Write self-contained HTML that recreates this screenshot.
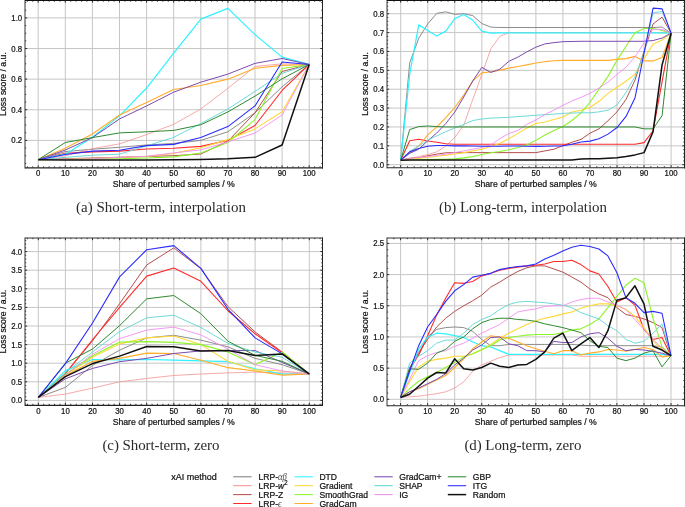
<!DOCTYPE html>
<html><head><meta charset="utf-8"><style>
html,body{margin:0;padding:0;background:#fff;}
body{width:685px;height:507px;overflow:hidden;}
svg{display:block;will-change:transform;font-family:"Liberation Sans",sans-serif;}
.s{stroke:#111;stroke-width:0.22px;}
</style></head><body>
<svg width="685" height="507" viewBox="0 0 685 507">
<rect width="685" height="507" fill="#fff"/>
<path d="M38.20 0.50V167.50M65.30 0.50V167.50M92.40 0.50V167.50M119.50 0.50V167.50M146.60 0.50V167.50M173.70 0.50V167.50M200.80 0.50V167.50M227.90 0.50V167.50M255.00 0.50V167.50M282.10 0.50V167.50M309.20 0.50V167.50M25.00 140.38H322.50M25.00 109.76H322.50M25.00 79.14H322.50M25.00 48.52H322.50M25.00 17.90H322.50" stroke="#c6c6c6" stroke-width="1.0" fill="none"/>
<g fill="none" stroke-linejoin="round" stroke-linecap="butt">
<polyline points="38.20,159.67 65.30,151.56 92.40,149.26 119.50,147.27 146.60,144.97 173.70,143.44 200.80,140.38 227.90,131.81 255.00,112.82 282.10,86.80 309.20,64.44" stroke="#7f7f7f" stroke-width="0.9"/>
<polyline points="38.20,159.67 65.30,155.84 92.40,148.65 119.50,143.90 146.60,134.56 173.70,124.30 200.80,108.99 227.90,88.33 255.00,66.43 282.10,63.83 309.20,64.44" stroke="#f39494" stroke-width="0.8"/>
<polyline points="38.20,159.67 65.30,158.75 92.40,157.99 119.50,157.22 146.60,156.46 173.70,155.69 200.80,154.01 227.90,141.15 255.00,112.82 282.10,71.48 309.20,64.44" stroke="#b44f4f" stroke-width="1.0"/>
<polyline points="38.20,159.67 65.30,153.24 92.40,151.86 119.50,151.10 146.60,148.95 173.70,148.19 200.80,146.35 227.90,140.38 255.00,125.53 282.10,90.47 309.20,64.44" stroke="#ff2a2a" stroke-width="1.1"/>
<polyline points="38.20,159.67 65.30,154.16 92.40,137.32 119.50,115.88 146.60,88.02 173.70,53.11 200.80,19.12 227.90,8.41 255.00,34.59 282.10,57.09 309.20,64.44" stroke="#2ef2ff" stroke-width="1.2"/>
<polyline points="38.20,159.67 65.30,159.21 92.40,158.45 119.50,157.53 146.60,156.46 173.70,153.39 200.80,147.73 227.90,139.61 255.00,128.90 282.10,111.75 309.20,64.44" stroke="#ffd83a" stroke-width="1.1"/>
<polyline points="38.20,159.67 65.30,159.52 92.40,159.06 119.50,158.75 146.60,157.99 173.70,156.91 200.80,152.93 227.90,142.52 255.00,119.56 282.10,68.42 309.20,64.44" stroke="#8cf52a" stroke-width="1.1"/>
<polyline points="38.20,159.67 65.30,148.19 92.40,133.95 119.50,114.97 146.60,102.41 173.70,89.55 200.80,85.57 227.90,79.14 255.00,68.27 282.10,65.36 309.20,64.44" stroke="#ffad2a" stroke-width="1.1"/>
<polyline points="38.20,159.67 65.30,150.03 92.40,137.62 119.50,118.95 146.60,105.93 173.70,92.15 200.80,82.20 227.90,74.09 255.00,63.37 282.10,58.47 309.20,64.44" stroke="#7d4bb0" stroke-width="1.0"/>
<polyline points="38.20,159.67 65.30,157.37 92.40,155.23 119.50,154.16 146.60,145.89 173.70,137.32 200.80,123.54 227.90,108.99 255.00,91.39 282.10,73.32 309.20,64.44" stroke="#5fd6d2" stroke-width="0.9"/>
<polyline points="38.20,159.67 65.30,159.36 92.40,158.75 119.50,157.37 146.60,156.30 173.70,152.93 200.80,149.87 227.90,141.91 255.00,133.03 282.10,114.97 309.20,64.44" stroke="#f28ef2" stroke-width="0.9"/>
<polyline points="38.20,159.67 65.30,142.52 92.40,137.62 119.50,132.88 146.60,131.81 173.70,130.43 200.80,124.76 227.90,111.90 255.00,96.13 282.10,78.83 309.20,64.44" stroke="#2f8a2f" stroke-width="1.0"/>
<polyline points="38.20,159.67 65.30,154.47 92.40,151.10 119.50,150.18 146.60,145.59 173.70,144.36 200.80,137.47 227.90,126.60 255.00,105.93 282.10,61.99 309.20,64.44" stroke="#2c2cff" stroke-width="1.1"/>
<polyline points="38.20,159.67 65.30,159.98 92.40,159.98 119.50,159.98 146.60,159.98 173.70,159.82 200.80,159.52 227.90,158.75 255.00,157.37 282.10,144.97 309.20,64.44" stroke="#111111" stroke-width="1.5"/>
</g>
<path d="M27.36 167.50v-1.2M27.36 0.50v1.2M32.78 167.50v-1.2M32.78 0.50v1.2M38.20 167.50v-2.2M38.20 0.50v2.2M43.62 167.50v-1.2M43.62 0.50v1.2M49.04 167.50v-1.2M49.04 0.50v1.2M54.46 167.50v-1.2M54.46 0.50v1.2M59.88 167.50v-1.2M59.88 0.50v1.2M65.30 167.50v-2.2M65.30 0.50v2.2M70.72 167.50v-1.2M70.72 0.50v1.2M76.14 167.50v-1.2M76.14 0.50v1.2M81.56 167.50v-1.2M81.56 0.50v1.2M86.98 167.50v-1.2M86.98 0.50v1.2M92.40 167.50v-2.2M92.40 0.50v2.2M97.82 167.50v-1.2M97.82 0.50v1.2M103.24 167.50v-1.2M103.24 0.50v1.2M108.66 167.50v-1.2M108.66 0.50v1.2M114.08 167.50v-1.2M114.08 0.50v1.2M119.50 167.50v-2.2M119.50 0.50v2.2M124.92 167.50v-1.2M124.92 0.50v1.2M130.34 167.50v-1.2M130.34 0.50v1.2M135.76 167.50v-1.2M135.76 0.50v1.2M141.18 167.50v-1.2M141.18 0.50v1.2M146.60 167.50v-2.2M146.60 0.50v2.2M152.02 167.50v-1.2M152.02 0.50v1.2M157.44 167.50v-1.2M157.44 0.50v1.2M162.86 167.50v-1.2M162.86 0.50v1.2M168.28 167.50v-1.2M168.28 0.50v1.2M173.70 167.50v-2.2M173.70 0.50v2.2M179.12 167.50v-1.2M179.12 0.50v1.2M184.54 167.50v-1.2M184.54 0.50v1.2M189.96 167.50v-1.2M189.96 0.50v1.2M195.38 167.50v-1.2M195.38 0.50v1.2M200.80 167.50v-2.2M200.80 0.50v2.2M206.22 167.50v-1.2M206.22 0.50v1.2M211.64 167.50v-1.2M211.64 0.50v1.2M217.06 167.50v-1.2M217.06 0.50v1.2M222.48 167.50v-1.2M222.48 0.50v1.2M227.90 167.50v-2.2M227.90 0.50v2.2M233.32 167.50v-1.2M233.32 0.50v1.2M238.74 167.50v-1.2M238.74 0.50v1.2M244.16 167.50v-1.2M244.16 0.50v1.2M249.58 167.50v-1.2M249.58 0.50v1.2M255.00 167.50v-2.2M255.00 0.50v2.2M260.42 167.50v-1.2M260.42 0.50v1.2M265.84 167.50v-1.2M265.84 0.50v1.2M271.26 167.50v-1.2M271.26 0.50v1.2M276.68 167.50v-1.2M276.68 0.50v1.2M282.10 167.50v-2.2M282.10 0.50v2.2M287.52 167.50v-1.2M287.52 0.50v1.2M292.94 167.50v-1.2M292.94 0.50v1.2M298.36 167.50v-1.2M298.36 0.50v1.2M303.78 167.50v-1.2M303.78 0.50v1.2M309.20 167.50v-2.2M309.20 0.50v2.2M314.62 167.50v-1.2M314.62 0.50v1.2M320.04 167.50v-1.2M320.04 0.50v1.2M25.00 163.34h1.2M322.50 163.34h-1.2M25.00 155.69h1.2M322.50 155.69h-1.2M25.00 148.03h1.2M322.50 148.03h-1.2M25.00 140.38h2.2M322.50 140.38h-2.2M25.00 132.72h1.2M322.50 132.72h-1.2M25.00 125.07h1.2M322.50 125.07h-1.2M25.00 117.41h1.2M322.50 117.41h-1.2M25.00 109.76h2.2M322.50 109.76h-2.2M25.00 102.10h1.2M322.50 102.10h-1.2M25.00 94.45h1.2M322.50 94.45h-1.2M25.00 86.79h1.2M322.50 86.79h-1.2M25.00 79.14h2.2M322.50 79.14h-2.2M25.00 71.48h1.2M322.50 71.48h-1.2M25.00 63.83h1.2M322.50 63.83h-1.2M25.00 56.17h1.2M322.50 56.17h-1.2M25.00 48.52h2.2M322.50 48.52h-2.2M25.00 40.86h1.2M322.50 40.86h-1.2M25.00 33.21h1.2M322.50 33.21h-1.2M25.00 25.55h1.2M322.50 25.55h-1.2M25.00 17.90h2.2M322.50 17.90h-2.2M25.00 10.24h1.2M322.50 10.24h-1.2M25.00 2.59h1.2M322.50 2.59h-1.2" stroke="#000" stroke-width="0.8" fill="none"/>
<path d="M25.00 0.00V168.50" stroke="#333" stroke-width="1.0" fill="none"/>
<path d="M322.50 0.00V168.50" stroke="#222" stroke-width="1.0" fill="none"/>
<path d="M25.00 0.50H323.00" stroke="#111" stroke-width="1.0" fill="none"/>
<path d="M25.00 167.90H323.00" stroke="#222" stroke-width="1.1" fill="none"/>
<g font-size="7.8" fill="#111" stroke="#111" stroke-width="0.2"><text transform="translate(38.20,176.20) scale(1,1.2)" text-anchor="middle">0</text><text transform="translate(65.30,176.20) scale(1,1.2)" text-anchor="middle">10</text><text transform="translate(92.40,176.20) scale(1,1.2)" text-anchor="middle">20</text><text transform="translate(119.50,176.20) scale(1,1.2)" text-anchor="middle">30</text><text transform="translate(146.60,176.20) scale(1,1.2)" text-anchor="middle">40</text><text transform="translate(173.70,176.20) scale(1,1.2)" text-anchor="middle">50</text><text transform="translate(200.80,176.20) scale(1,1.2)" text-anchor="middle">60</text><text transform="translate(227.90,176.20) scale(1,1.2)" text-anchor="middle">70</text><text transform="translate(255.00,176.20) scale(1,1.2)" text-anchor="middle">80</text><text transform="translate(282.10,176.20) scale(1,1.2)" text-anchor="middle">90</text><text transform="translate(309.20,176.20) scale(1,1.2)" text-anchor="middle">100</text><text transform="translate(22.20,143.38) scale(1,1.2)" text-anchor="end">0.2</text><text transform="translate(22.20,112.76) scale(1,1.2)" text-anchor="end">0.4</text><text transform="translate(22.20,82.14) scale(1,1.2)" text-anchor="end">0.6</text><text transform="translate(22.20,51.52) scale(1,1.2)" text-anchor="end">0.8</text><text transform="translate(22.20,20.90) scale(1,1.2)" text-anchor="end">1.0</text></g>
<text x="173.75" y="186.80" text-anchor="middle" font-size="8.7" fill="#111" class="s">Share of perturbed samples / %</text>
<text transform="translate(6.20,84.00) rotate(-90)" text-anchor="middle" font-size="8.7" fill="#111" class="s">Loss score / a.u.</text>
<text transform="translate(160.95,212.00) scale(1.1,1)" text-anchor="middle" font-family="Liberation Serif, serif" font-size="13.6" fill="#2a2a2a" textLength="154.55" lengthAdjust="spacing">(a) Short-term, interpolation</text>
<path d="M400.70 0.50V167.40M427.74 0.50V167.40M454.78 0.50V167.40M481.82 0.50V167.40M508.86 0.50V167.40M535.90 0.50V167.40M562.94 0.50V167.40M589.98 0.50V167.40M617.02 0.50V167.40M644.06 0.50V167.40M671.10 0.50V167.40M387.00 164.70H684.50M387.00 145.83H684.50M387.00 126.96H684.50M387.00 108.09H684.50M387.00 89.22H684.50M387.00 70.35H684.50M387.00 51.48H684.50M387.00 32.61H684.50M387.00 13.74H684.50" stroke="#c6c6c6" stroke-width="1.0" fill="none"/>
<g fill="none" stroke-linejoin="round" stroke-linecap="butt">
<polyline points="400.70,160.17 409.71,62.80 418.73,38.27 427.74,23.93 436.75,13.36 445.77,11.85 454.78,14.31 463.79,13.74 472.81,15.63 481.82,23.55 490.83,27.14 499.85,27.52 508.86,27.52 517.87,27.52 526.89,27.52 535.90,27.52 544.91,27.52 553.93,27.52 562.94,27.52 571.95,27.52 580.97,27.52 589.98,27.52 598.99,27.52 608.01,27.52 617.02,27.52 626.03,27.52 635.05,27.52 644.06,27.52 653.07,27.52 662.09,27.14 671.10,33.18" stroke="#7f7f7f" stroke-width="0.9"/>
<polyline points="400.70,160.17 409.71,158.10 418.73,156.59 427.74,154.51 436.75,151.87 445.77,146.02 454.78,137.53 463.79,125.07 472.81,99.41 481.82,74.69 490.83,48.84 499.85,36.38 508.86,32.61 517.87,32.61 526.89,32.61 535.90,32.61 544.91,32.61 553.93,32.61 562.94,32.61 571.95,32.61 580.97,32.61 589.98,32.61 598.99,32.61 608.01,32.61 617.02,32.61 626.03,32.61 635.05,32.61 644.06,32.61 653.07,32.61 662.09,32.61 671.10,33.18" stroke="#f39494" stroke-width="0.8"/>
<polyline points="400.70,160.17 409.71,158.47 418.73,157.91 427.74,155.83 436.75,154.13 445.77,152.81 454.78,152.62 463.79,152.62 472.81,152.62 481.82,152.62 490.83,152.62 499.85,152.62 508.86,152.62 517.87,152.62 526.89,152.62 535.90,152.62 544.91,150.92 553.93,149.23 562.94,145.64 571.95,142.24 580.97,139.41 589.98,133.19 598.99,128.85 608.01,120.73 617.02,111.86 626.03,99.41 635.05,79.97 644.06,51.48 653.07,23.93 662.09,17.14 671.10,33.18" stroke="#b44f4f" stroke-width="1.0"/>
<polyline points="400.70,160.17 409.71,140.74 418.73,139.23 427.74,140.92 436.75,142.24 445.77,143.75 454.78,144.32 463.79,144.32 472.81,144.32 481.82,144.32 490.83,144.32 499.85,144.32 508.86,144.32 517.87,144.32 526.89,144.32 535.90,144.32 544.91,144.32 553.93,144.32 562.94,144.32 571.95,144.32 580.97,144.32 589.98,144.32 598.99,144.32 608.01,144.32 617.02,144.32 626.03,144.32 635.05,144.32 644.06,142.62 653.07,130.73 662.09,81.67 671.10,33.18" stroke="#ff2a2a" stroke-width="1.1"/>
<polyline points="400.70,160.17 409.71,74.12 418.73,24.87 427.74,30.53 436.75,36.01 445.77,31.10 454.78,18.65 463.79,14.49 472.81,20.34 481.82,31.10 490.83,33.18 499.85,32.80 508.86,32.80 517.87,32.80 526.89,32.80 535.90,32.80 544.91,32.80 553.93,32.80 562.94,32.80 571.95,32.80 580.97,32.80 589.98,32.80 598.99,32.80 608.01,32.80 617.02,32.80 626.03,32.80 635.05,32.80 644.06,32.80 653.07,32.80 662.09,32.80 671.10,33.18" stroke="#2ef2ff" stroke-width="1.2"/>
<polyline points="400.70,160.17 409.71,159.04 418.73,158.10 427.74,157.15 436.75,156.21 445.77,155.08 454.78,153.94 463.79,152.62 472.81,150.92 481.82,149.23 490.83,146.58 499.85,143.19 508.86,138.66 517.87,133.38 526.89,128.09 535.90,123.56 544.91,122.05 553.93,119.41 562.94,116.96 571.95,112.05 580.97,110.17 589.98,107.52 598.99,101.30 608.01,93.37 617.02,87.33 626.03,81.29 635.05,74.12 644.06,58.65 653.07,44.31 662.09,39.97 671.10,33.18" stroke="#ffd83a" stroke-width="1.1"/>
<polyline points="400.70,160.17 409.71,159.79 418.73,159.79 427.74,159.61 436.75,159.42 445.77,159.23 454.78,158.85 463.79,157.91 472.81,156.59 481.82,154.51 490.83,152.81 499.85,151.49 508.86,149.79 517.87,147.53 526.89,144.89 535.90,140.36 544.91,135.07 553.93,130.55 562.94,126.58 571.95,120.54 580.97,112.81 589.98,102.24 598.99,89.22 608.01,76.39 617.02,60.35 626.03,46.20 635.05,32.80 644.06,28.46 653.07,28.46 662.09,30.53 671.10,33.18" stroke="#8cf52a" stroke-width="1.1"/>
<polyline points="400.70,160.17 409.71,152.62 418.73,146.02 427.74,134.89 436.75,126.96 445.77,117.71 454.78,107.52 463.79,95.07 472.81,80.92 481.82,72.80 490.83,71.86 499.85,70.16 508.86,68.09 517.87,66.58 526.89,64.88 535.90,62.99 544.91,61.67 553.93,60.73 562.94,60.35 571.95,60.35 580.97,60.35 589.98,60.35 598.99,60.35 608.01,60.35 617.02,59.41 626.03,58.65 635.05,56.39 644.06,60.91 653.07,60.91 662.09,57.52 671.10,33.18" stroke="#ffad2a" stroke-width="1.1"/>
<polyline points="400.70,160.17 409.71,153.38 418.73,149.23 427.74,140.74 436.75,133.00 445.77,123.56 454.78,112.05 463.79,96.96 472.81,80.92 481.82,67.33 490.83,72.43 499.85,69.22 508.86,61.29 517.87,57.14 526.89,51.86 535.90,47.14 544.91,43.93 553.93,42.61 562.94,41.67 571.95,41.48 580.97,41.29 589.98,41.29 598.99,41.29 608.01,41.29 617.02,41.29 626.03,41.29 635.05,41.29 644.06,41.29 653.07,40.54 662.09,38.08 671.10,33.18" stroke="#7d4bb0" stroke-width="1.0"/>
<polyline points="400.70,160.17 409.71,151.30 418.73,146.02 427.74,140.17 436.75,135.83 445.77,131.68 454.78,127.90 463.79,124.32 472.81,120.54 481.82,119.03 490.83,118.09 499.85,117.71 508.86,117.34 517.87,116.58 526.89,116.02 535.90,115.26 544.91,114.69 553.93,114.13 562.94,113.37 571.95,113.00 580.97,112.81 589.98,112.81 598.99,111.86 608.01,110.17 617.02,104.88 626.03,92.43 635.05,76.39 644.06,53.18 653.07,12.80 662.09,11.48 671.10,33.18" stroke="#5fd6d2" stroke-width="0.9"/>
<polyline points="400.70,160.17 409.71,158.47 418.73,157.53 427.74,156.59 436.75,155.45 445.77,154.13 454.78,152.62 463.79,150.92 472.81,149.23 481.82,147.53 490.83,144.89 499.85,138.66 508.86,133.38 517.87,130.55 526.89,124.32 535.90,119.98 544.91,114.51 553.93,110.17 562.94,105.26 571.95,100.92 580.97,97.33 589.98,93.37 598.99,88.09 608.01,82.05 617.02,74.50 626.03,67.14 635.05,56.76 644.06,42.61 653.07,29.21 662.09,29.59 671.10,33.18" stroke="#f28ef2" stroke-width="0.9"/>
<polyline points="400.70,160.17 409.71,129.60 418.73,126.58 427.74,126.02 436.75,126.58 445.77,126.96 454.78,126.96 463.79,126.96 472.81,126.96 481.82,126.96 490.83,126.96 499.85,126.96 508.86,126.96 517.87,126.96 526.89,126.96 535.90,126.96 544.91,126.96 553.93,126.96 562.94,126.96 571.95,126.96 580.97,126.96 589.98,126.96 598.99,126.96 608.01,126.96 617.02,126.96 626.03,126.96 635.05,126.96 644.06,128.85 653.07,128.85 662.09,115.64 671.10,33.18" stroke="#2f8a2f" stroke-width="1.0"/>
<polyline points="400.70,160.17 409.71,151.87 418.73,148.47 427.74,146.21 436.75,145.45 445.77,145.45 454.78,145.83 463.79,145.83 472.81,146.02 481.82,146.21 490.83,146.21 499.85,146.21 508.86,146.02 517.87,146.02 526.89,146.21 535.90,146.40 544.91,146.21 553.93,146.02 562.94,145.83 571.95,144.32 580.97,142.06 589.98,141.11 598.99,138.66 608.01,134.13 617.02,127.53 626.03,116.39 635.05,97.71 644.06,52.99 653.07,8.08 662.09,8.83 671.10,33.18" stroke="#2c2cff" stroke-width="1.1"/>
<polyline points="400.70,160.17 409.71,159.98 418.73,159.98 427.74,159.98 436.75,159.98 445.77,159.98 454.78,159.98 463.79,159.98 472.81,159.98 481.82,159.98 490.83,159.98 499.85,159.98 508.86,159.98 517.87,159.98 526.89,159.98 535.90,159.98 544.91,159.98 553.93,159.98 562.94,159.98 571.95,159.98 580.97,159.04 589.98,158.85 598.99,158.66 608.01,158.28 617.02,157.72 626.03,156.59 635.05,154.89 644.06,152.62 653.07,131.68 662.09,64.69 671.10,33.18" stroke="#111111" stroke-width="1.5"/>
</g>
<path d="M393.94 167.40v-1.2M393.94 0.50v1.2M400.70 167.40v-2.2M400.70 0.50v2.2M407.46 167.40v-1.2M407.46 0.50v1.2M414.22 167.40v-1.2M414.22 0.50v1.2M420.98 167.40v-1.2M420.98 0.50v1.2M427.74 167.40v-2.2M427.74 0.50v2.2M434.50 167.40v-1.2M434.50 0.50v1.2M441.26 167.40v-1.2M441.26 0.50v1.2M448.02 167.40v-1.2M448.02 0.50v1.2M454.78 167.40v-2.2M454.78 0.50v2.2M461.54 167.40v-1.2M461.54 0.50v1.2M468.30 167.40v-1.2M468.30 0.50v1.2M475.06 167.40v-1.2M475.06 0.50v1.2M481.82 167.40v-2.2M481.82 0.50v2.2M488.58 167.40v-1.2M488.58 0.50v1.2M495.34 167.40v-1.2M495.34 0.50v1.2M502.10 167.40v-1.2M502.10 0.50v1.2M508.86 167.40v-2.2M508.86 0.50v2.2M515.62 167.40v-1.2M515.62 0.50v1.2M522.38 167.40v-1.2M522.38 0.50v1.2M529.14 167.40v-1.2M529.14 0.50v1.2M535.90 167.40v-2.2M535.90 0.50v2.2M542.66 167.40v-1.2M542.66 0.50v1.2M549.42 167.40v-1.2M549.42 0.50v1.2M556.18 167.40v-1.2M556.18 0.50v1.2M562.94 167.40v-2.2M562.94 0.50v2.2M569.70 167.40v-1.2M569.70 0.50v1.2M576.46 167.40v-1.2M576.46 0.50v1.2M583.22 167.40v-1.2M583.22 0.50v1.2M589.98 167.40v-2.2M589.98 0.50v2.2M596.74 167.40v-1.2M596.74 0.50v1.2M603.50 167.40v-1.2M603.50 0.50v1.2M610.26 167.40v-1.2M610.26 0.50v1.2M617.02 167.40v-2.2M617.02 0.50v2.2M623.78 167.40v-1.2M623.78 0.50v1.2M630.54 167.40v-1.2M630.54 0.50v1.2M637.30 167.40v-1.2M637.30 0.50v1.2M644.06 167.40v-2.2M644.06 0.50v2.2M650.82 167.40v-1.2M650.82 0.50v1.2M657.58 167.40v-1.2M657.58 0.50v1.2M664.34 167.40v-1.2M664.34 0.50v1.2M671.10 167.40v-2.2M671.10 0.50v2.2M677.86 167.40v-1.2M677.86 0.50v1.2M387.00 164.70h2.2M684.50 164.70h-2.2M387.00 160.93h1.2M684.50 160.93h-1.2M387.00 157.15h1.2M684.50 157.15h-1.2M387.00 153.38h1.2M684.50 153.38h-1.2M387.00 149.60h1.2M684.50 149.60h-1.2M387.00 145.83h2.2M684.50 145.83h-2.2M387.00 142.06h1.2M684.50 142.06h-1.2M387.00 138.28h1.2M684.50 138.28h-1.2M387.00 134.51h1.2M684.50 134.51h-1.2M387.00 130.73h1.2M684.50 130.73h-1.2M387.00 126.96h2.2M684.50 126.96h-2.2M387.00 123.19h1.2M684.50 123.19h-1.2M387.00 119.41h1.2M684.50 119.41h-1.2M387.00 115.64h1.2M684.50 115.64h-1.2M387.00 111.86h1.2M684.50 111.86h-1.2M387.00 108.09h2.2M684.50 108.09h-2.2M387.00 104.32h1.2M684.50 104.32h-1.2M387.00 100.54h1.2M684.50 100.54h-1.2M387.00 96.77h1.2M684.50 96.77h-1.2M387.00 92.99h1.2M684.50 92.99h-1.2M387.00 89.22h2.2M684.50 89.22h-2.2M387.00 85.45h1.2M684.50 85.45h-1.2M387.00 81.67h1.2M684.50 81.67h-1.2M387.00 77.90h1.2M684.50 77.90h-1.2M387.00 74.12h1.2M684.50 74.12h-1.2M387.00 70.35h2.2M684.50 70.35h-2.2M387.00 66.58h1.2M684.50 66.58h-1.2M387.00 62.80h1.2M684.50 62.80h-1.2M387.00 59.03h1.2M684.50 59.03h-1.2M387.00 55.25h1.2M684.50 55.25h-1.2M387.00 51.48h2.2M684.50 51.48h-2.2M387.00 47.71h1.2M684.50 47.71h-1.2M387.00 43.93h1.2M684.50 43.93h-1.2M387.00 40.16h1.2M684.50 40.16h-1.2M387.00 36.38h1.2M684.50 36.38h-1.2M387.00 32.61h2.2M684.50 32.61h-2.2M387.00 28.84h1.2M684.50 28.84h-1.2M387.00 25.06h1.2M684.50 25.06h-1.2M387.00 21.29h1.2M684.50 21.29h-1.2M387.00 17.51h1.2M684.50 17.51h-1.2M387.00 13.74h2.2M684.50 13.74h-2.2M387.00 9.97h1.2M684.50 9.97h-1.2M387.00 6.19h1.2M684.50 6.19h-1.2M387.00 2.42h1.2M684.50 2.42h-1.2" stroke="#000" stroke-width="0.8" fill="none"/>
<path d="M387.00 0.00V168.40" stroke="#333" stroke-width="1.0" fill="none"/>
<path d="M684.50 0.00V168.40" stroke="#222" stroke-width="1.0" fill="none"/>
<path d="M387.00 0.50H685.00" stroke="#111" stroke-width="1.0" fill="none"/>
<path d="M387.00 167.80H685.00" stroke="#222" stroke-width="1.1" fill="none"/>
<g font-size="7.8" fill="#111" stroke="#111" stroke-width="0.2"><text transform="translate(400.70,176.10) scale(1,1.2)" text-anchor="middle">0</text><text transform="translate(427.74,176.10) scale(1,1.2)" text-anchor="middle">10</text><text transform="translate(454.78,176.10) scale(1,1.2)" text-anchor="middle">20</text><text transform="translate(481.82,176.10) scale(1,1.2)" text-anchor="middle">30</text><text transform="translate(508.86,176.10) scale(1,1.2)" text-anchor="middle">40</text><text transform="translate(535.90,176.10) scale(1,1.2)" text-anchor="middle">50</text><text transform="translate(562.94,176.10) scale(1,1.2)" text-anchor="middle">60</text><text transform="translate(589.98,176.10) scale(1,1.2)" text-anchor="middle">70</text><text transform="translate(617.02,176.10) scale(1,1.2)" text-anchor="middle">80</text><text transform="translate(644.06,176.10) scale(1,1.2)" text-anchor="middle">90</text><text transform="translate(671.10,176.10) scale(1,1.2)" text-anchor="middle">100</text><text transform="translate(384.20,167.70) scale(1,1.2)" text-anchor="end">0.0</text><text transform="translate(384.20,148.83) scale(1,1.2)" text-anchor="end">0.1</text><text transform="translate(384.20,129.96) scale(1,1.2)" text-anchor="end">0.2</text><text transform="translate(384.20,111.09) scale(1,1.2)" text-anchor="end">0.3</text><text transform="translate(384.20,92.22) scale(1,1.2)" text-anchor="end">0.4</text><text transform="translate(384.20,73.35) scale(1,1.2)" text-anchor="end">0.5</text><text transform="translate(384.20,54.48) scale(1,1.2)" text-anchor="end">0.6</text><text transform="translate(384.20,35.61) scale(1,1.2)" text-anchor="end">0.7</text><text transform="translate(384.20,16.74) scale(1,1.2)" text-anchor="end">0.8</text></g>
<text x="535.75" y="186.70" text-anchor="middle" font-size="8.7" fill="#111" class="s">Share of perturbed samples / %</text>
<text transform="translate(368.30,83.95) rotate(-90)" text-anchor="middle" font-size="8.7" fill="#111" class="s">Loss score / a.u.</text>
<text transform="translate(522.95,211.90) scale(1.1,1)" text-anchor="middle" font-family="Liberation Serif, serif" font-size="13.6" fill="#2a2a2a" textLength="152.73" lengthAdjust="spacing">(b) Long-term, interpolation</text>
<path d="M38.30 238.00V405.00M65.40 238.00V405.00M92.50 238.00V405.00M119.60 238.00V405.00M146.70 238.00V405.00M173.80 238.00V405.00M200.90 238.00V405.00M228.00 238.00V405.00M255.10 238.00V405.00M282.20 238.00V405.00M309.30 238.00V405.00M25.00 400.40H322.50M25.00 381.80H322.50M25.00 363.20H322.50M25.00 344.60H322.50M25.00 326.00H322.50M25.00 307.40H322.50M25.00 288.80H322.50M25.00 270.20H322.50M25.00 251.60H322.50" stroke="#c6c6c6" stroke-width="1.0" fill="none"/>
<g fill="none" stroke-linejoin="round" stroke-linecap="butt">
<polyline points="38.30,397.42 65.40,387.38 92.50,365.43 119.60,350.18 146.70,337.90 173.80,335.30 200.90,340.14 228.00,346.83 255.10,358.36 282.20,364.69 309.30,373.99" stroke="#7f7f7f" stroke-width="0.9"/>
<polyline points="38.30,397.42 65.40,394.08 92.50,388.12 119.60,381.80 146.70,378.45 173.80,375.48 200.90,373.99 228.00,372.87 255.10,372.13 282.20,372.87 309.30,373.99" stroke="#f39494" stroke-width="0.8"/>
<polyline points="38.30,397.42 65.40,373.62 92.50,340.88 119.60,303.68 146.70,264.99 173.80,247.88 200.90,268.71 228.00,306.66 255.10,331.95 282.20,352.04 309.30,373.99" stroke="#b44f4f" stroke-width="1.0"/>
<polyline points="38.30,397.42 65.40,373.62 92.50,339.76 119.60,307.40 146.70,276.15 173.80,267.97 200.90,281.36 228.00,310.75 255.10,333.81 282.20,352.78 309.30,373.99" stroke="#ff2a2a" stroke-width="1.1"/>
<polyline points="38.30,397.42 65.40,370.64 92.50,359.48 119.60,359.85 146.70,359.48 173.80,360.22 200.90,360.97 228.00,361.71 255.10,368.78 282.20,373.99 309.30,373.99" stroke="#2ef2ff" stroke-width="1.2"/>
<polyline points="38.30,397.42 65.40,375.10 92.50,357.25 119.60,343.86 146.70,337.90 173.80,336.04 200.90,344.60 228.00,361.34 255.10,369.90 282.20,371.01 309.30,373.99" stroke="#ffd83a" stroke-width="1.1"/>
<polyline points="38.30,397.42 65.40,374.36 92.50,355.76 119.60,342.00 146.70,341.62 173.80,342.37 200.90,344.60 228.00,352.04 255.10,364.69 282.20,352.04 309.30,373.99" stroke="#8cf52a" stroke-width="1.1"/>
<polyline points="38.30,397.42 65.40,375.85 92.50,361.34 119.60,358.36 146.70,353.16 173.80,353.53 200.90,360.22 228.00,367.66 255.10,371.01 282.20,375.10 309.30,373.99" stroke="#ffad2a" stroke-width="1.1"/>
<polyline points="38.30,397.42 65.40,378.82 92.50,368.41 119.60,361.71 146.70,358.36 173.80,353.53 200.90,350.92 228.00,350.55 255.10,350.55 282.20,362.46 309.30,373.99" stroke="#7d4bb0" stroke-width="1.0"/>
<polyline points="38.30,397.42 65.40,372.50 92.50,352.04 119.60,331.58 146.70,317.82 173.80,315.21 200.90,327.49 228.00,343.48 255.10,352.04 282.20,357.25 309.30,373.99" stroke="#5fd6d2" stroke-width="0.9"/>
<polyline points="38.30,397.42 65.40,375.10 92.50,354.27 119.60,338.65 146.70,330.09 173.80,327.12 200.90,334.93 228.00,349.06 255.10,364.69 282.20,371.01 309.30,373.99" stroke="#f28ef2" stroke-width="0.9"/>
<polyline points="38.30,397.42 65.40,363.20 92.50,349.06 119.60,325.63 146.70,298.84 173.80,295.50 200.90,313.72 228.00,341.25 255.10,355.39 282.20,361.34 309.30,373.99" stroke="#2f8a2f" stroke-width="1.0"/>
<polyline points="38.30,397.42 65.40,363.57 92.50,323.02 119.60,276.90 146.70,249.74 173.80,245.65 200.90,268.34 228.00,309.26 255.10,337.90 282.20,353.90 309.30,373.99" stroke="#2c2cff" stroke-width="1.1"/>
<polyline points="38.30,397.42 65.40,376.59 92.50,363.57 119.60,356.13 146.70,346.46 173.80,346.83 200.90,350.92 228.00,350.55 255.10,355.39 282.20,353.90 309.30,373.99" stroke="#111111" stroke-width="1.5"/>
</g>
<path d="M27.46 405.00v-1.2M27.46 238.00v1.2M32.88 405.00v-1.2M32.88 238.00v1.2M38.30 405.00v-2.2M38.30 238.00v2.2M43.72 405.00v-1.2M43.72 238.00v1.2M49.14 405.00v-1.2M49.14 238.00v1.2M54.56 405.00v-1.2M54.56 238.00v1.2M59.98 405.00v-1.2M59.98 238.00v1.2M65.40 405.00v-2.2M65.40 238.00v2.2M70.82 405.00v-1.2M70.82 238.00v1.2M76.24 405.00v-1.2M76.24 238.00v1.2M81.66 405.00v-1.2M81.66 238.00v1.2M87.08 405.00v-1.2M87.08 238.00v1.2M92.50 405.00v-2.2M92.50 238.00v2.2M97.92 405.00v-1.2M97.92 238.00v1.2M103.34 405.00v-1.2M103.34 238.00v1.2M108.76 405.00v-1.2M108.76 238.00v1.2M114.18 405.00v-1.2M114.18 238.00v1.2M119.60 405.00v-2.2M119.60 238.00v2.2M125.02 405.00v-1.2M125.02 238.00v1.2M130.44 405.00v-1.2M130.44 238.00v1.2M135.86 405.00v-1.2M135.86 238.00v1.2M141.28 405.00v-1.2M141.28 238.00v1.2M146.70 405.00v-2.2M146.70 238.00v2.2M152.12 405.00v-1.2M152.12 238.00v1.2M157.54 405.00v-1.2M157.54 238.00v1.2M162.96 405.00v-1.2M162.96 238.00v1.2M168.38 405.00v-1.2M168.38 238.00v1.2M173.80 405.00v-2.2M173.80 238.00v2.2M179.22 405.00v-1.2M179.22 238.00v1.2M184.64 405.00v-1.2M184.64 238.00v1.2M190.06 405.00v-1.2M190.06 238.00v1.2M195.48 405.00v-1.2M195.48 238.00v1.2M200.90 405.00v-2.2M200.90 238.00v2.2M206.32 405.00v-1.2M206.32 238.00v1.2M211.74 405.00v-1.2M211.74 238.00v1.2M217.16 405.00v-1.2M217.16 238.00v1.2M222.58 405.00v-1.2M222.58 238.00v1.2M228.00 405.00v-2.2M228.00 238.00v2.2M233.42 405.00v-1.2M233.42 238.00v1.2M238.84 405.00v-1.2M238.84 238.00v1.2M244.26 405.00v-1.2M244.26 238.00v1.2M249.68 405.00v-1.2M249.68 238.00v1.2M255.10 405.00v-2.2M255.10 238.00v2.2M260.52 405.00v-1.2M260.52 238.00v1.2M265.94 405.00v-1.2M265.94 238.00v1.2M271.36 405.00v-1.2M271.36 238.00v1.2M276.78 405.00v-1.2M276.78 238.00v1.2M282.20 405.00v-2.2M282.20 238.00v2.2M287.62 405.00v-1.2M287.62 238.00v1.2M293.04 405.00v-1.2M293.04 238.00v1.2M298.46 405.00v-1.2M298.46 238.00v1.2M303.88 405.00v-1.2M303.88 238.00v1.2M309.30 405.00v-2.2M309.30 238.00v2.2M314.72 405.00v-1.2M314.72 238.00v1.2M320.14 405.00v-1.2M320.14 238.00v1.2M25.00 404.12h1.2M322.50 404.12h-1.2M25.00 400.40h2.2M322.50 400.40h-2.2M25.00 396.68h1.2M322.50 396.68h-1.2M25.00 392.96h1.2M322.50 392.96h-1.2M25.00 389.24h1.2M322.50 389.24h-1.2M25.00 385.52h1.2M322.50 385.52h-1.2M25.00 381.80h2.2M322.50 381.80h-2.2M25.00 378.08h1.2M322.50 378.08h-1.2M25.00 374.36h1.2M322.50 374.36h-1.2M25.00 370.64h1.2M322.50 370.64h-1.2M25.00 366.92h1.2M322.50 366.92h-1.2M25.00 363.20h2.2M322.50 363.20h-2.2M25.00 359.48h1.2M322.50 359.48h-1.2M25.00 355.76h1.2M322.50 355.76h-1.2M25.00 352.04h1.2M322.50 352.04h-1.2M25.00 348.32h1.2M322.50 348.32h-1.2M25.00 344.60h2.2M322.50 344.60h-2.2M25.00 340.88h1.2M322.50 340.88h-1.2M25.00 337.16h1.2M322.50 337.16h-1.2M25.00 333.44h1.2M322.50 333.44h-1.2M25.00 329.72h1.2M322.50 329.72h-1.2M25.00 326.00h2.2M322.50 326.00h-2.2M25.00 322.28h1.2M322.50 322.28h-1.2M25.00 318.56h1.2M322.50 318.56h-1.2M25.00 314.84h1.2M322.50 314.84h-1.2M25.00 311.12h1.2M322.50 311.12h-1.2M25.00 307.40h2.2M322.50 307.40h-2.2M25.00 303.68h1.2M322.50 303.68h-1.2M25.00 299.96h1.2M322.50 299.96h-1.2M25.00 296.24h1.2M322.50 296.24h-1.2M25.00 292.52h1.2M322.50 292.52h-1.2M25.00 288.80h2.2M322.50 288.80h-2.2M25.00 285.08h1.2M322.50 285.08h-1.2M25.00 281.36h1.2M322.50 281.36h-1.2M25.00 277.64h1.2M322.50 277.64h-1.2M25.00 273.92h1.2M322.50 273.92h-1.2M25.00 270.20h2.2M322.50 270.20h-2.2M25.00 266.48h1.2M322.50 266.48h-1.2M25.00 262.76h1.2M322.50 262.76h-1.2M25.00 259.04h1.2M322.50 259.04h-1.2M25.00 255.32h1.2M322.50 255.32h-1.2M25.00 251.60h2.2M322.50 251.60h-2.2M25.00 247.88h1.2M322.50 247.88h-1.2M25.00 244.16h1.2M322.50 244.16h-1.2M25.00 240.44h1.2M322.50 240.44h-1.2" stroke="#000" stroke-width="0.8" fill="none"/>
<path d="M25.00 237.50V406.00" stroke="#333" stroke-width="1.0" fill="none"/>
<path d="M322.50 237.50V406.00" stroke="#222" stroke-width="1.0" fill="none"/>
<path d="M25.00 238.00H323.00" stroke="#333" stroke-width="1.0" fill="none"/>
<path d="M25.00 405.40H323.00" stroke="#222" stroke-width="1.1" fill="none"/>
<g font-size="7.8" fill="#111" stroke="#111" stroke-width="0.2"><text transform="translate(38.30,413.70) scale(1,1.2)" text-anchor="middle">0</text><text transform="translate(65.40,413.70) scale(1,1.2)" text-anchor="middle">10</text><text transform="translate(92.50,413.70) scale(1,1.2)" text-anchor="middle">20</text><text transform="translate(119.60,413.70) scale(1,1.2)" text-anchor="middle">30</text><text transform="translate(146.70,413.70) scale(1,1.2)" text-anchor="middle">40</text><text transform="translate(173.80,413.70) scale(1,1.2)" text-anchor="middle">50</text><text transform="translate(200.90,413.70) scale(1,1.2)" text-anchor="middle">60</text><text transform="translate(228.00,413.70) scale(1,1.2)" text-anchor="middle">70</text><text transform="translate(255.10,413.70) scale(1,1.2)" text-anchor="middle">80</text><text transform="translate(282.20,413.70) scale(1,1.2)" text-anchor="middle">90</text><text transform="translate(309.30,413.70) scale(1,1.2)" text-anchor="middle">100</text><text transform="translate(22.20,403.40) scale(1,1.2)" text-anchor="end">0.0</text><text transform="translate(22.20,384.80) scale(1,1.2)" text-anchor="end">0.5</text><text transform="translate(22.20,366.20) scale(1,1.2)" text-anchor="end">1.0</text><text transform="translate(22.20,347.60) scale(1,1.2)" text-anchor="end">1.5</text><text transform="translate(22.20,329.00) scale(1,1.2)" text-anchor="end">2.0</text><text transform="translate(22.20,310.40) scale(1,1.2)" text-anchor="end">2.5</text><text transform="translate(22.20,291.80) scale(1,1.2)" text-anchor="end">3.0</text><text transform="translate(22.20,273.20) scale(1,1.2)" text-anchor="end">3.5</text><text transform="translate(22.20,254.60) scale(1,1.2)" text-anchor="end">4.0</text></g>
<text x="173.75" y="424.80" text-anchor="middle" font-size="8.7" fill="#111" class="s">Share of perturbed samples / %</text>
<text transform="translate(6.20,321.50) rotate(-90)" text-anchor="middle" font-size="8.7" fill="#111" class="s">Loss score / a.u.</text>
<text transform="translate(160.95,449.50) scale(1.1,1)" text-anchor="middle" font-family="Liberation Serif, serif" font-size="13.6" fill="#2a2a2a" textLength="106.36" lengthAdjust="spacing">(c) Short-term, zero</text>
<path d="M400.60 238.00V405.30M427.64 238.00V405.30M454.68 238.00V405.30M481.72 238.00V405.30M508.76 238.00V405.30M535.80 238.00V405.30M562.84 238.00V405.30M589.88 238.00V405.30M616.92 238.00V405.30M643.96 238.00V405.30M671.00 238.00V405.30M387.00 399.30H684.50M387.00 368.12H684.50M387.00 336.95H684.50M387.00 305.77H684.50M387.00 274.60H684.50M387.00 243.43H684.50" stroke="#c6c6c6" stroke-width="1.0" fill="none"/>
<g fill="none" stroke-linejoin="round" stroke-linecap="butt">
<polyline points="400.60,397.43 409.61,367.50 418.63,355.03 427.64,336.95 436.65,329.47 445.67,327.60 454.68,326.97 463.69,327.60 472.71,331.34 481.72,339.44 490.73,345.68 499.75,345.68 508.76,344.43 517.77,344.43 526.79,344.43 535.80,344.43 544.81,344.43 553.83,344.43 562.84,344.43 571.85,344.43 580.87,345.06 589.88,345.68 598.89,345.68 607.91,345.68 616.92,345.68 625.93,345.68 634.95,345.68 643.96,345.68 652.97,345.68 661.99,346.93 671.00,355.66" stroke="#7f7f7f" stroke-width="0.9"/>
<polyline points="400.60,397.43 409.61,396.81 418.63,396.18 427.64,394.94 436.65,393.69 445.67,391.82 454.68,388.08 463.69,381.84 472.71,371.24 481.72,365.01 490.73,361.27 499.75,357.53 508.76,355.03 517.77,355.03 526.79,355.03 535.80,355.03 544.81,355.03 553.83,355.03 562.84,355.03 571.85,355.03 580.87,356.28 589.88,356.28 598.89,356.28 607.91,356.28 616.92,356.28 625.93,356.28 634.95,356.28 643.96,356.28 652.97,356.28 661.99,356.28 671.00,355.66" stroke="#f39494" stroke-width="0.8"/>
<polyline points="400.60,397.43 409.61,368.12 418.63,352.54 427.64,339.44 436.65,326.97 445.67,318.25 454.68,311.39 463.69,305.77 472.71,300.79 481.72,295.18 490.73,287.07 499.75,282.08 508.76,276.47 517.77,271.48 526.79,267.74 535.80,265.87 544.81,265.87 553.83,268.99 562.84,272.11 571.85,277.09 580.87,282.08 589.88,288.94 598.89,293.93 607.91,297.67 616.92,307.65 625.93,314.50 634.95,316.37 643.96,318.87 652.97,322.61 661.99,327.60 671.00,355.66" stroke="#b44f4f" stroke-width="1.0"/>
<polyline points="400.60,397.43 409.61,369.37 418.63,355.03 427.64,335.70 436.65,315.13 445.67,298.29 454.68,282.71 463.69,283.33 472.71,281.46 481.72,275.85 490.73,273.35 499.75,270.24 508.76,268.37 517.77,267.12 526.79,265.87 535.80,265.25 544.81,264.00 553.83,261.51 562.84,261.51 571.85,260.26 580.87,264.62 589.88,270.86 598.89,273.98 607.91,286.45 616.92,302.03 625.93,297.67 634.95,305.15 643.96,329.47 652.97,339.44 661.99,337.57 671.00,355.66" stroke="#ff2a2a" stroke-width="1.1"/>
<polyline points="400.60,397.43 409.61,373.11 418.63,349.42 427.64,336.95 436.65,333.21 445.67,333.83 454.68,335.70 463.69,337.57 472.71,341.94 481.72,345.68 490.73,346.93 499.75,350.67 508.76,354.41 517.77,354.41 526.79,354.41 535.80,354.41 544.81,354.41 553.83,354.41 562.84,354.41 571.85,354.41 580.87,354.41 589.88,354.41 598.89,354.41 607.91,354.41 616.92,354.41 625.93,354.41 634.95,354.41 643.96,354.41 652.97,354.41 661.99,354.41 671.00,355.66" stroke="#2ef2ff" stroke-width="1.2"/>
<polyline points="400.60,397.43 409.61,381.84 418.63,366.88 427.64,361.27 436.65,359.40 445.67,358.15 454.68,356.28 463.69,356.28 472.71,353.78 481.72,350.04 490.73,344.43 499.75,338.20 508.76,333.21 517.77,328.84 526.79,324.48 535.80,320.74 544.81,318.25 553.83,316.37 562.84,313.88 571.85,312.01 580.87,308.27 589.88,305.77 598.89,303.90 607.91,303.90 616.92,305.77 625.93,309.52 634.95,316.37 643.96,327.60 652.97,340.69 661.99,349.42 671.00,355.66" stroke="#ffd83a" stroke-width="1.1"/>
<polyline points="400.60,397.43 409.61,388.70 418.63,381.22 427.64,376.85 436.65,372.49 445.67,367.50 454.68,362.51 463.69,356.90 472.71,353.78 481.72,349.42 490.73,345.68 499.75,340.07 508.76,337.57 517.77,336.33 526.79,335.08 535.80,334.46 544.81,334.46 553.83,334.46 562.84,332.59 571.85,330.09 580.87,328.84 589.88,324.48 598.89,318.87 607.91,307.65 616.92,296.42 625.93,285.20 634.95,278.34 643.96,282.71 652.97,318.25 661.99,346.93 671.00,355.66" stroke="#8cf52a" stroke-width="1.1"/>
<polyline points="400.60,397.43 409.61,391.82 418.63,388.70 427.64,384.34 436.65,379.97 445.67,375.61 454.68,367.50 463.69,358.77 472.71,348.80 481.72,341.94 490.73,335.70 499.75,336.95 508.76,338.20 517.77,341.94 526.79,345.68 535.80,348.80 544.81,351.29 553.83,353.78 562.84,350.67 571.85,350.67 580.87,355.03 589.88,353.16 598.89,351.91 607.91,349.42 616.92,350.04 625.93,351.29 634.95,349.42 643.96,347.55 652.97,349.42 661.99,356.90 671.00,355.66" stroke="#ffad2a" stroke-width="1.1"/>
<polyline points="400.60,397.43 409.61,391.82 418.63,388.08 427.64,383.71 436.65,379.35 445.67,373.74 454.68,365.01 463.69,358.15 472.71,350.04 481.72,345.06 490.73,337.57 499.75,336.95 508.76,343.81 517.77,345.68 526.79,350.67 535.80,350.67 544.81,351.91 553.83,341.31 562.84,342.56 571.85,342.56 580.87,336.95 589.88,333.83 598.89,332.59 607.91,338.20 616.92,346.30 625.93,350.67 634.95,349.42 643.96,350.04 652.97,351.29 661.99,353.16 671.00,355.66" stroke="#7d4bb0" stroke-width="1.0"/>
<polyline points="400.60,397.43 409.61,363.14 418.63,356.28 427.64,350.67 436.65,343.19 445.67,340.07 454.68,340.07 463.69,333.21 472.71,324.48 481.72,319.49 490.73,315.75 499.75,309.52 508.76,304.53 517.77,302.03 526.79,301.41 535.80,302.03 544.81,302.66 553.83,303.90 562.84,305.15 571.85,307.65 580.87,312.63 589.88,315.75 598.89,318.87 607.91,325.73 616.92,330.72 625.93,339.44 634.95,343.19 643.96,341.31 652.97,333.21 661.99,323.86 671.00,355.66" stroke="#5fd6d2" stroke-width="0.9"/>
<polyline points="400.60,397.43 409.61,379.35 418.63,360.64 427.64,355.66 436.65,352.54 445.67,350.67 454.68,346.30 463.69,343.19 472.71,338.20 481.72,333.21 490.73,328.84 499.75,324.48 508.76,318.25 517.77,312.01 526.79,310.14 535.80,308.89 544.81,306.40 553.83,305.77 562.84,305.77 571.85,302.03 580.87,299.54 589.88,298.29 598.89,298.29 607.91,302.03 616.92,305.15 625.93,309.52 634.95,319.49 643.96,329.47 652.97,339.44 661.99,348.17 671.00,355.66" stroke="#f28ef2" stroke-width="0.9"/>
<polyline points="400.60,397.43 409.61,368.75 418.63,369.37 427.64,363.14 436.65,353.16 445.67,349.42 454.68,341.31 463.69,336.95 472.71,328.84 481.72,322.61 490.73,319.49 499.75,318.25 508.76,318.25 517.77,319.49 526.79,320.12 535.80,321.36 544.81,323.86 553.83,325.73 562.84,327.60 571.85,330.09 580.87,332.59 589.88,340.69 598.89,346.30 607.91,347.55 616.92,358.15 625.93,360.64 634.95,358.15 643.96,353.16 652.97,350.67 661.99,366.88 671.00,355.66" stroke="#2f8a2f" stroke-width="1.0"/>
<polyline points="400.60,397.43 409.61,371.24 418.63,345.68 427.64,326.97 436.65,314.50 445.67,301.41 454.68,290.81 463.69,284.58 472.71,277.09 481.72,275.22 490.73,273.35 499.75,269.61 508.76,267.74 517.77,266.49 526.79,265.87 535.80,264.00 544.81,259.01 553.83,255.27 562.84,250.91 571.85,247.17 580.87,245.30 589.88,246.54 598.89,249.04 607.91,255.90 616.92,272.73 625.93,297.67 634.95,303.28 643.96,312.63 652.97,311.39 661.99,313.26 671.00,355.66" stroke="#2c2cff" stroke-width="1.1"/>
<polyline points="400.60,397.43 409.61,394.31 418.63,386.21 427.64,378.10 436.65,372.49 445.67,373.11 454.68,358.77 463.69,368.75 472.71,370.00 481.72,367.50 490.73,363.14 499.75,366.25 508.76,367.50 517.77,365.01 526.79,364.38 535.80,359.40 544.81,351.91 553.83,338.20 562.84,333.21 571.85,350.67 580.87,343.81 589.88,337.57 598.89,347.55 607.91,330.72 616.92,300.16 625.93,297.67 634.95,285.82 643.96,303.90 652.97,346.30 661.99,350.04 671.00,355.66" stroke="#111111" stroke-width="1.5"/>
</g>
<path d="M393.84 405.30v-1.2M393.84 238.00v1.2M400.60 405.30v-2.2M400.60 238.00v2.2M407.36 405.30v-1.2M407.36 238.00v1.2M414.12 405.30v-1.2M414.12 238.00v1.2M420.88 405.30v-1.2M420.88 238.00v1.2M427.64 405.30v-2.2M427.64 238.00v2.2M434.40 405.30v-1.2M434.40 238.00v1.2M441.16 405.30v-1.2M441.16 238.00v1.2M447.92 405.30v-1.2M447.92 238.00v1.2M454.68 405.30v-2.2M454.68 238.00v2.2M461.44 405.30v-1.2M461.44 238.00v1.2M468.20 405.30v-1.2M468.20 238.00v1.2M474.96 405.30v-1.2M474.96 238.00v1.2M481.72 405.30v-2.2M481.72 238.00v2.2M488.48 405.30v-1.2M488.48 238.00v1.2M495.24 405.30v-1.2M495.24 238.00v1.2M502.00 405.30v-1.2M502.00 238.00v1.2M508.76 405.30v-2.2M508.76 238.00v2.2M515.52 405.30v-1.2M515.52 238.00v1.2M522.28 405.30v-1.2M522.28 238.00v1.2M529.04 405.30v-1.2M529.04 238.00v1.2M535.80 405.30v-2.2M535.80 238.00v2.2M542.56 405.30v-1.2M542.56 238.00v1.2M549.32 405.30v-1.2M549.32 238.00v1.2M556.08 405.30v-1.2M556.08 238.00v1.2M562.84 405.30v-2.2M562.84 238.00v2.2M569.60 405.30v-1.2M569.60 238.00v1.2M576.36 405.30v-1.2M576.36 238.00v1.2M583.12 405.30v-1.2M583.12 238.00v1.2M589.88 405.30v-2.2M589.88 238.00v2.2M596.64 405.30v-1.2M596.64 238.00v1.2M603.40 405.30v-1.2M603.40 238.00v1.2M610.16 405.30v-1.2M610.16 238.00v1.2M616.92 405.30v-2.2M616.92 238.00v2.2M623.68 405.30v-1.2M623.68 238.00v1.2M630.44 405.30v-1.2M630.44 238.00v1.2M637.20 405.30v-1.2M637.20 238.00v1.2M643.96 405.30v-2.2M643.96 238.00v2.2M650.72 405.30v-1.2M650.72 238.00v1.2M657.48 405.30v-1.2M657.48 238.00v1.2M664.24 405.30v-1.2M664.24 238.00v1.2M671.00 405.30v-2.2M671.00 238.00v2.2M677.76 405.30v-1.2M677.76 238.00v1.2M387.00 399.30h2.2M684.50 399.30h-2.2M387.00 393.07h1.2M684.50 393.07h-1.2M387.00 386.83h1.2M684.50 386.83h-1.2M387.00 380.60h1.2M684.50 380.60h-1.2M387.00 374.36h1.2M684.50 374.36h-1.2M387.00 368.13h2.2M684.50 368.13h-2.2M387.00 361.89h1.2M684.50 361.89h-1.2M387.00 355.66h1.2M684.50 355.66h-1.2M387.00 349.42h1.2M684.50 349.42h-1.2M387.00 343.19h1.2M684.50 343.19h-1.2M387.00 336.95h2.2M684.50 336.95h-2.2M387.00 330.72h1.2M684.50 330.72h-1.2M387.00 324.48h1.2M684.50 324.48h-1.2M387.00 318.25h1.2M684.50 318.25h-1.2M387.00 312.01h1.2M684.50 312.01h-1.2M387.00 305.78h2.2M684.50 305.78h-2.2M387.00 299.54h1.2M684.50 299.54h-1.2M387.00 293.31h1.2M684.50 293.31h-1.2M387.00 287.07h1.2M684.50 287.07h-1.2M387.00 280.84h1.2M684.50 280.84h-1.2M387.00 274.60h2.2M684.50 274.60h-2.2M387.00 268.37h1.2M684.50 268.37h-1.2M387.00 262.13h1.2M684.50 262.13h-1.2M387.00 255.90h1.2M684.50 255.90h-1.2M387.00 249.66h1.2M684.50 249.66h-1.2M387.00 243.43h2.2M684.50 243.43h-2.2" stroke="#000" stroke-width="0.8" fill="none"/>
<path d="M387.00 237.50V406.30" stroke="#333" stroke-width="1.0" fill="none"/>
<path d="M684.50 237.50V406.30" stroke="#222" stroke-width="1.0" fill="none"/>
<path d="M387.00 238.00H685.00" stroke="#333" stroke-width="1.0" fill="none"/>
<path d="M387.00 405.70H685.00" stroke="#222" stroke-width="1.1" fill="none"/>
<g font-size="7.8" fill="#111" stroke="#111" stroke-width="0.2"><text transform="translate(400.60,414.00) scale(1,1.2)" text-anchor="middle">0</text><text transform="translate(427.64,414.00) scale(1,1.2)" text-anchor="middle">10</text><text transform="translate(454.68,414.00) scale(1,1.2)" text-anchor="middle">20</text><text transform="translate(481.72,414.00) scale(1,1.2)" text-anchor="middle">30</text><text transform="translate(508.76,414.00) scale(1,1.2)" text-anchor="middle">40</text><text transform="translate(535.80,414.00) scale(1,1.2)" text-anchor="middle">50</text><text transform="translate(562.84,414.00) scale(1,1.2)" text-anchor="middle">60</text><text transform="translate(589.88,414.00) scale(1,1.2)" text-anchor="middle">70</text><text transform="translate(616.92,414.00) scale(1,1.2)" text-anchor="middle">80</text><text transform="translate(643.96,414.00) scale(1,1.2)" text-anchor="middle">90</text><text transform="translate(671.00,414.00) scale(1,1.2)" text-anchor="middle">100</text><text transform="translate(384.20,402.30) scale(1,1.2)" text-anchor="end">0.0</text><text transform="translate(384.20,371.12) scale(1,1.2)" text-anchor="end">0.5</text><text transform="translate(384.20,339.95) scale(1,1.2)" text-anchor="end">1.0</text><text transform="translate(384.20,308.77) scale(1,1.2)" text-anchor="end">1.5</text><text transform="translate(384.20,277.60) scale(1,1.2)" text-anchor="end">2.0</text><text transform="translate(384.20,246.43) scale(1,1.2)" text-anchor="end">2.5</text></g>
<text x="535.75" y="425.10" text-anchor="middle" font-size="8.7" fill="#111" class="s">Share of perturbed samples / %</text>
<text transform="translate(368.30,321.65) rotate(-90)" text-anchor="middle" font-size="8.7" fill="#111" class="s">Loss score / a.u.</text>
<text transform="translate(522.95,449.80) scale(1.1,1)" text-anchor="middle" font-family="Liberation Serif, serif" font-size="13.6" fill="#2a2a2a" textLength="106.36" lengthAdjust="spacing">(d) Long-term, zero</text>
<text transform="translate(171.3,479.8) scale(1,1.1)" font-size="9.0" fill="#111" class="s">xAI method</text>
<line x1="233.2" y1="476.8" x2="251.6" y2="476.8" stroke="#7f7f7f" stroke-width="1.05"/>
<text transform="translate(258.5,479.9) scale(1,1.12)" font-size="8.6" fill="#111" class="s">LRP-<tspan font-family="Liberation Serif" font-style="italic" stroke="none" fill="#444">αβ</tspan></text>
<line x1="233.2" y1="485.7" x2="251.6" y2="485.7" stroke="#f39494" stroke-width="1.05"/>
<text transform="translate(258.5,488.8) scale(1,1.12)" font-size="8.6" fill="#111" class="s">LRP-<tspan font-style="italic">w</tspan><tspan font-size="6" dy="-3.2">2</tspan></text>
<line x1="233.2" y1="494.6" x2="251.6" y2="494.6" stroke="#b44f4f" stroke-width="1.05"/>
<text transform="translate(258.5,497.7) scale(1,1.12)" font-size="8.6" fill="#111" class="s">LRP-Z</text>
<line x1="233.2" y1="503.5" x2="251.6" y2="503.5" stroke="#ff2a2a" stroke-width="1.05"/>
<text transform="translate(258.5,506.6) scale(1,1.12)" font-size="8.6" fill="#111" class="s">LRP-<tspan font-family="Liberation Serif" font-style="italic" stroke="none" fill="#444">ϵ</tspan></text>
<line x1="294.5" y1="476.8" x2="312.9" y2="476.8" stroke="#2ef2ff" stroke-width="1.05"/>
<text transform="translate(319.4,479.9) scale(1,1.12)" font-size="8.6" fill="#111" class="s">DTD</text>
<line x1="294.5" y1="485.7" x2="312.9" y2="485.7" stroke="#ffd83a" stroke-width="1.05"/>
<text transform="translate(319.4,488.8) scale(1,1.12)" font-size="8.6" fill="#111" class="s">Gradient</text>
<line x1="294.5" y1="494.6" x2="312.9" y2="494.6" stroke="#8cf52a" stroke-width="1.05"/>
<text transform="translate(319.4,497.7) scale(1,1.12)" font-size="8.6" fill="#111" class="s">SmoothGrad</text>
<line x1="294.5" y1="503.5" x2="312.9" y2="503.5" stroke="#ffad2a" stroke-width="1.05"/>
<text transform="translate(319.4,506.6) scale(1,1.12)" font-size="8.6" fill="#111" class="s">GradCam</text>
<line x1="374.3" y1="476.8" x2="392.7" y2="476.8" stroke="#7d4bb0" stroke-width="1.05"/>
<text transform="translate(399.2,479.9) scale(1,1.12)" font-size="8.6" fill="#111" class="s">GradCam+</text>
<line x1="374.3" y1="485.7" x2="392.7" y2="485.7" stroke="#5fd6d2" stroke-width="1.05"/>
<text transform="translate(399.2,488.8) scale(1,1.12)" font-size="8.6" fill="#111" class="s">SHAP</text>
<line x1="374.3" y1="494.6" x2="392.7" y2="494.6" stroke="#f28ef2" stroke-width="1.05"/>
<text transform="translate(399.2,497.7) scale(1,1.12)" font-size="8.6" fill="#111" class="s">IG</text>
<line x1="447.8" y1="476.8" x2="466.2" y2="476.8" stroke="#2f8a2f" stroke-width="1.05"/>
<text transform="translate(472.8,479.9) scale(1,1.12)" font-size="8.6" fill="#111" class="s">GBP</text>
<line x1="447.8" y1="485.7" x2="466.2" y2="485.7" stroke="#2c2cff" stroke-width="1.05"/>
<text transform="translate(472.8,488.8) scale(1,1.12)" font-size="8.6" fill="#111" class="s">ITG</text>
<line x1="447.8" y1="494.6" x2="466.2" y2="494.6" stroke="#111111" stroke-width="1.5"/>
<text transform="translate(472.8,497.7) scale(1,1.12)" font-size="8.6" fill="#111" class="s">Random</text>
</svg>
</body></html>
